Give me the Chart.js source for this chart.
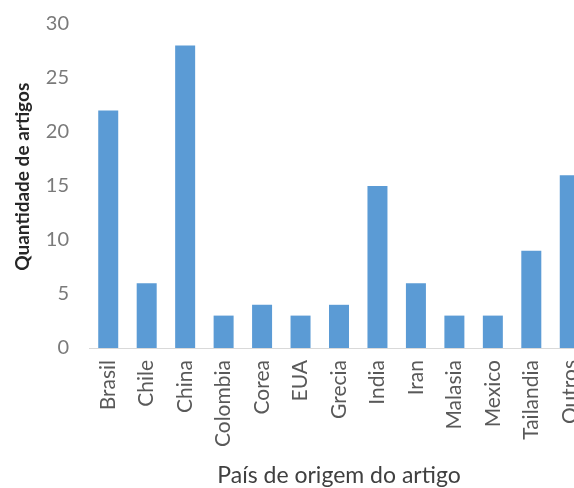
<!DOCTYPE html>
<html><head><meta charset="utf-8">
<script src="https://cdn.jsdelivr.net/npm/chart.js@4"></script>
<style>
html,body{margin:0;padding:0;overflow:hidden;background:#fff;}
#wrap{width:602px;height:488px;position:relative;}
</style></head>
<body><div id="wrap"><canvas id="c"></canvas></div>
<script>
const categories = ["Brasil","Chile","China","Colombia","Corea","EUA","Grecia","India","Iran","Malasia","Mexico","Tailandia","Outros"];
const values = [22,6,28,3,4,3,4,15,6,3,3,9,16];
const yTicks = [0,5,10,15,20,25,30];

new Chart(document.getElementById('c'), {
  type: 'bar',
  data: { labels: categories, datasets: [{ data: values, backgroundColor: '#5B9BD5', categoryPercentage: 1, barPercentage: 0.52 }] },
  options: {
    responsive: true, maintainAspectRatio: false, animation: false,
    layout: { padding: { top: 24, right: 13, left: 0, bottom: 4 } },
    plugins: { legend: { display: false }, tooltip: { enabled: false } },
    scales: {
      x: {
        grid: { display: false, drawTicks: false },
        border: { display: true, color: '#d9d9d9', width: 1 },
        ticks: { color: '#595959', font: { family: 'Lato', size: 21 }, minRotation: 90, maxRotation: 90, padding: 12 },
        title: { display: true, text: 'País de origem do artigo', color: '#404040', font: { family: 'Lato', size: 23 }, padding: { top: 0, bottom: -5 } },
        afterFit: s => { s.height = 488 - 348 - 4; s.paddingLeft = 0; s.paddingRight = 0; }
      },
      y: {
        min: 0, max: 30,
        afterBuildTicks: s => { s.ticks = yTicks.map(v => ({ value: v })); },
        grid: { display: false, drawTicks: false },
        border: { display: false },
        ticks: { color: '#7a7a7a', font: { family: 'Lato', size: 20 }, padding: 20 },
        title: { display: true, text: '\u00A0\u00A0\u00A0\u00A0Quantidade de artigos', color: '#262626', font: { family: 'Lato', size: 19, weight: 'bold' }, padding: { top: 11, bottom: 4 } },
        afterFit: s => { s.width = 89; s.paddingTop = 0; s.paddingBottom = 0; }
      }
    }
  }
});
</script></body></html>
